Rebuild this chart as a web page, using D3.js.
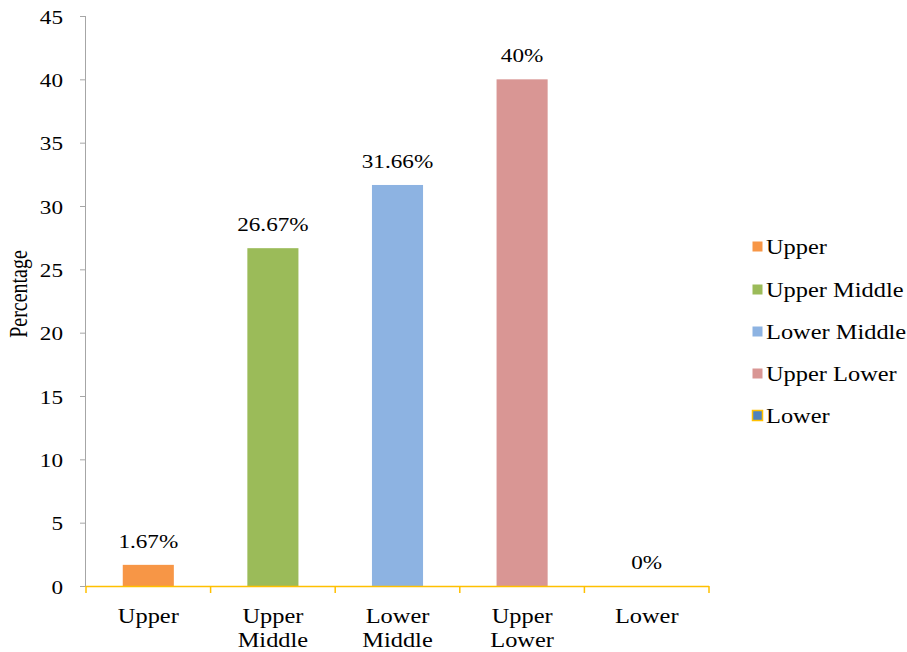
<!DOCTYPE html>
<html>
<head>
<meta charset="utf-8">
<script src="https://cdn.jsdelivr.net/npm/d3@7"></script>
<style>
  html, body { margin: 0; padding: 0; background: #fff; }
  svg { display: block; }
  text { font-family: "Liberation Serif", "Times New Roman", serif; fill: #000; }
</style>
</head>
<body>
<svg id="chart" width="907" height="652"></svg>
<script>
// Social class distribution of respondents
const categories = ["Upper", "Upper Middle", "Lower Middle", "Upper Lower", "Lower"];
const axisLabels = [["Upper"], ["Upper", "Middle"], ["Lower", "Middle"], ["Upper", "Lower"], ["Lower"]];
const values = [1.67, 26.67, 31.66, 40, 0];
const valueLabels = ["1.67%", "26.67%", "31.66%", "40%", "0%"];
const colors = ["#f79646", "#9bbb59", "#8db3e2", "#d99694", "#4f81bd"];
const yTicks = [0, 5, 10, 15, 20, 25, 30, 35, 40, 45];

const svg = d3.select("#chart");
const stretch = 1.22; // horizontal text stretch

const x0 = 86, x1 = 709, yTop = 16, yBottom = 586;

const x = d3.scaleBand().domain(categories).range([x0, x1]).paddingInner(0.59).paddingOuter(0.295);
const xBand = d3.scaleBand().domain(categories).range([x0, x1]);
const y = d3.scaleLinear().domain([0, 45]).range([yBottom, yTop]);

// y axis
const yAxis = svg.append("g").attr("transform", `translate(${x0},0)`)
  .call(d3.axisLeft(y).tickValues(yTicks).tickSize(6).tickFormat(d3.format("d")));
yAxis.select(".domain").attr("stroke", "#a6a6a6").attr("d", `M-0.5,${yTop}V${yBottom}`);
yAxis.selectAll(".tick line").attr("stroke", "#a6a6a6");
yAxis.selectAll(".tick text").remove();
yAxis.selectAll(".tick").append("text")
  .attr("text-anchor", "end")
  .attr("transform", `translate(-23,7) scale(${stretch},1)`)
  .style("font-size", "19px")
  .text(d => d);

// bars
svg.append("g").selectAll("rect").data(categories).join("rect")
  .attr("x", d => x(d))
  .attr("width", x.bandwidth())
  .attr("y", (d, i) => y(values[i]))
  .attr("height", (d, i) => yBottom - y(values[i]))
  .attr("fill", (d, i) => colors[i]);

// value labels
svg.append("g").selectAll("text").data(categories).join("text")
  .attr("text-anchor", "middle")
  .attr("transform", (d, i) => `translate(${x(d) + x.bandwidth() / 2},${y(values[i]) - 17}) scale(${stretch},1)`)
  .style("font-size", "19px")
  .text((d, i) => valueLabels[i]);

// x axis
const xAxis = svg.append("g").attr("transform", `translate(0,${yBottom})`);
xAxis.append("line").attr("x1", x0).attr("x2", x1).attr("y1", 0.5).attr("y2", 0.5)
  .attr("stroke", "#ffc000").attr("stroke-width", 1.5);
const boundaries = categories.map(c => xBand(c)).concat([x1]);
xAxis.selectAll(".tk").data(boundaries).join("line")
  .attr("class", "tk")
  .attr("x1", d => d).attr("x2", d => d)
  .attr("y1", 0).attr("y2", 7)
  .attr("stroke", "#ffc000").attr("stroke-width", 1.5);
const catLabels = xAxis.selectAll(".cat").data(categories).join("g")
  .attr("class", "cat")
  .attr("transform", d => `translate(${xBand(d) + xBand.bandwidth() / 2},0)`);
catLabels.each(function (d, i) {
  d3.select(this).selectAll("text").data(axisLabels[i]).join("text")
    .attr("text-anchor", "middle")
    .attr("transform", (t, j) => `translate(0,${37 + j * 24}) scale(${stretch},1)`)
    .style("font-size", "20px")
    .text(t => t);
});

// y axis title
svg.append("text")
  .attr("text-anchor", "middle")
  .attr("transform", `translate(27,294) scale(${stretch},1) rotate(-90)`)
  .style("font-size", "20px")
  .text("Percentage");

// legend
const legend = svg.append("g").attr("transform", "translate(752,0)");
const rowY = [247, 290, 332, 374, 416];
const items = legend.selectAll("g").data(categories).join("g")
  .attr("transform", (d, i) => `translate(0,${rowY[i]})`);
items.append("rect")
  .attr("x", 0.5).attr("y", -5.5).attr("width", 10).attr("height", 10)
  .attr("fill", (d, i) => colors[i])
  .attr("stroke", (d, i) => i === 4 ? "#ffc000" : "none")
  .attr("stroke-width", 1.5);
items.append("text")
  .attr("transform", `translate(14,7) scale(${stretch},1)`)
  .style("font-size", "20px")
  .text(d => d);
</script>
</body>
</html>
